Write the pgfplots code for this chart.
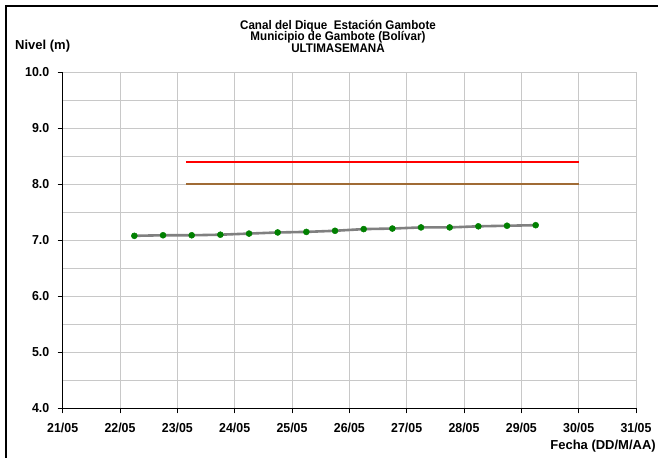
\documentclass[border=0pt]{standalone}
\usepackage{pgfplots}
\pgfplotsset{compat=1.18}
\usepackage{fontspec}
\setmainfont{Liberation Sans}
\newfontfamily\condA[FakeStretch=0.95]{Liberation Sans}
\newfontfamily\condB[FakeStretch=0.93]{Liberation Sans}
\definecolor{serie}{RGB}{128,128,128}
\definecolor{punto}{RGB}{0,128,0}
\definecolor{cafe}{RGB}{160,107,53}
\definecolor{rejilla}{RGB}{200,200,200}
\begin{document}
\begin{tikzpicture}
\begin{axis}[
  at={(0,0)}, anchor=south west,
  scale only axis, width=573.3bp, height=336bp,
  xmin=21, xmax=31, ymin=4, ymax=10,
  xtick={21,22,23,24,25,26,27,28,29,30,31},
  xticklabels={21/05,22/05,23/05,24/05,25/05,26/05,27/05,28/05,29/05,30/05,31/05},
  ytick={4,5,6,7,8,9,10},
  yticklabels={4.0,5.0,6.0,7.0,8.0,9.0,10.0},
  minor ytick={4.5,5.5,6.5,7.5,8.5,9.5},
  grid=both,
  major grid style={rejilla, line width=0.9bp},
  minor grid style={rejilla, line width=0.9bp},
  axis x line*=bottom, axis y line*=left,
  axis line style={black, line width=1.2bp},
  tick align=outside, major tick length=5bp, minor tick length=0pt,
  tick style={black, line width=0.8bp},
  ticklabel style={font=\condA\fontsize{13bp}{14bp}\selectfont\bfseries},
  xticklabel style={yshift=-6bp},
  yticklabel style={xshift=-5bp},
  /pgf/number format/assume math mode=true,
  clip=false,
]
\addplot[serie, line width=2.6bp, mark=*, mark size=3bp, mark options={fill=punto, draw=punto, line width=0.5bp}] coordinates {
(22.25,7.08) (22.75,7.09) (23.25,7.09) (23.75,7.10) (24.25,7.12)
(24.75,7.14) (25.25,7.15) (25.75,7.17) (26.25,7.20) (26.75,7.21)
(27.25,7.23) (27.75,7.23) (28.25,7.25) (28.75,7.26) (29.25,7.27)};
\addplot[red, line width=2bp] coordinates {(23.15,8.4) (30,8.4)};
\addplot[cafe, line width=2bp] coordinates {(23.15,8.0) (30,8.0)};
\end{axis}
\begin{scope}[every node/.style={inner sep=0pt, font=\condB\fontsize{12.5bp}{12.5bp}\selectfont\bfseries}]
\node[anchor=base] at (275.3bp,379bp) {Canal del Dique\ \ Estación Gambote};
\node[anchor=base] at (275.3bp,367.3bp) {Municipio de Gambote (Bolívar)};
\node[anchor=base] at (275.3bp,355.6bp) {ULTIMASEMANA};
\node[anchor=base west, font=\fontsize{13bp}{13bp}\selectfont\bfseries] at (-47.7bp,358.3bp) {Nivel (m)};
\node[anchor=base east, font=\fontsize{13bp}{13bp}\selectfont\bfseries] at (593.3bp,-40.7bp) {Fecha (DD/M/AA)};
\end{scope}
\draw[black, line width=2.5bp] (-56.7bp,-60bp) -- (-56.7bp,402.3bp) -- (610bp,402.3bp);
\pgfresetboundingbox
\path[use as bounding box] (-62.7bp,-49.7bp) rectangle (595.3bp,408.3bp);
\end{tikzpicture}
\end{document}
